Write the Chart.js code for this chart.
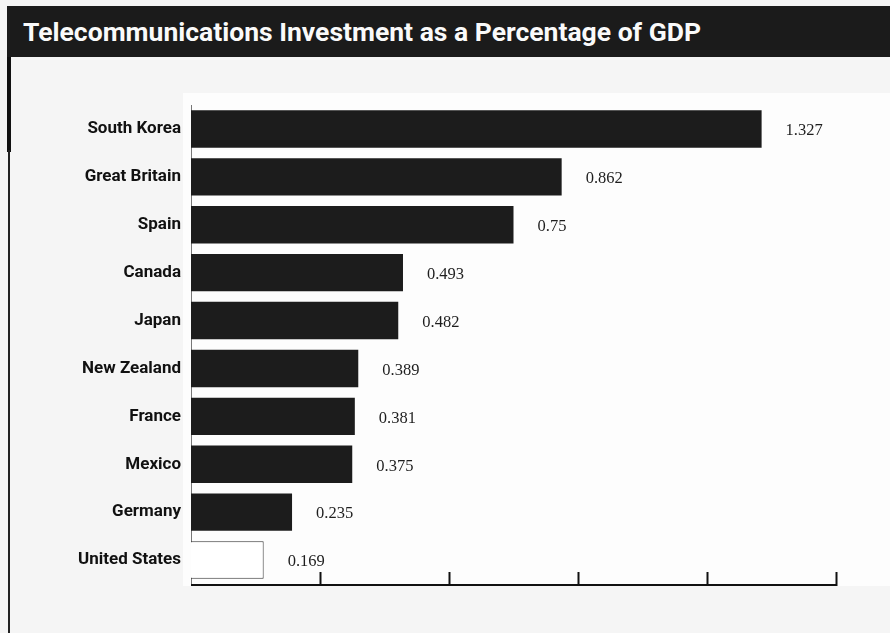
<!DOCTYPE html>
<html>
<head>
<meta charset="utf-8">
<script src="https://cdn.jsdelivr.net/npm/chart.js@4.4.1/dist/chart.umd.min.js"></script>
<style>
  html, body { margin: 0; padding: 0; }
  body { width: 890px; height: 633px; background: #f5f5f5; position: relative; overflow: hidden; }
  .titleBar {
    position: absolute; left: 7px; top: 6px; width: 883px; height: 51px;
    background: #1b1b1b;
  }
  .titleBar span {
    position: absolute; left: 16px; top: 10px;
    color: #fafafa; font-family: Roboto, "Liberation Sans", sans-serif;
    font-weight: bold; font-size: 26.5px; white-space: nowrap;
  }
  .edgeTop { position: absolute; left: 7px; top: 57px; width: 4px; height: 95px; background: #111; }
  .edge { position: absolute; left: 8px; top: 150px; width: 2px; height: 483px; background: #222; }
  #chartBox { position: absolute; left: 0; top: 0; width: 890px; height: 633px; }
</style>
</head>
<body>
<div class="titleBar"><span>Telecommunications Investment as a Percentage of GDP</span></div>
<div class="edgeTop"></div>
<div class="edge"></div>
<div id="chartBox"><canvas id="myChart"></canvas></div>
<script>
const countries = ['South Korea', 'Great Britain', 'Spain', 'Canada', 'Japan',
  'New Zealand', 'France', 'Mexico', 'Germany', 'United States'];
const investment = [1.327, 0.862, 0.75, 0.493, 0.482, 0.389, 0.381, 0.375, 0.235, 0.169];
const valueLabels = ['1.327', '0.862', '0.75', '0.493', '0.482', '0.389', '0.381', '0.375', '0.235', '0.169'];
const axisTicks = [0.3, 0.6, 0.9, 1.2, 1.5];

// white panel behind the plot, like the scan
const panelPlugin = {
  id: 'panel',
  beforeDraw(chart) {
    const { ctx, chartArea } = chart;
    ctx.save();
    ctx.fillStyle = '#fdfdfd';
    ctx.fillRect(chartArea.left - 8, chartArea.top - 12, chart.width - chartArea.left + 8, chartArea.bottom - chartArea.top + 14);
    ctx.restore();
  },
};

// axis line with upward ticks + value labels next to bars
const axisPlugin = {
  id: 'axisTicks',
  afterDatasetsDraw(chart) {
    const { ctx, chartArea } = chart;
    const xScale = chart.scales.x;
    const y0 = chartArea.bottom + 1;
    ctx.save();
    ctx.strokeStyle = '#111';
    ctx.lineWidth = 2;
    ctx.beginPath();
    ctx.moveTo(chartArea.left, y0);
    ctx.lineTo(xScale.getPixelForValue(1.5), y0);
    ctx.stroke();
    axisTicks.forEach((v) => {
      const x = Math.round(xScale.getPixelForValue(v)) + 0.5;
      ctx.beginPath();
      ctx.moveTo(x, y0 + 1);
      ctx.lineTo(x, y0 - 13);
      ctx.stroke();
    });

    const meta = chart.getDatasetMeta(0);
    ctx.fillStyle = '#1e1e1e';
    ctx.font = '16.5px "Liberation Serif", "DejaVu Serif", serif';
    ctx.textBaseline = 'middle';
    meta.data.forEach((bar, i) => {
      ctx.fillText(valueLabels[i], bar.x + 24, bar.y + 2);
    });
    ctx.restore();
  },
};

const myChartRef = document.getElementById('myChart').getContext('2d');
new Chart(myChartRef, {
  type: 'bar',
  data: {
    labels: countries,
    datasets: [{
      label: 'Investment (% of GDP)',
      data: investment,
      backgroundColor: countries.map((c) => (c === 'United States' ? '#ffffff' : '#1c1c1c')),
      borderColor: countries.map((c) => (c === 'United States' ? '#333' : '#1c1c1c')),
      borderWidth: countries.map((c) => (c === 'United States' ? 1 : 0)),
      barPercentage: 0.78,
      categoryPercentage: 1,
    }],
  },
  options: {
    indexAxis: 'y',
    animation: false,
    responsive: true,
    maintainAspectRatio: false,
    layout: { padding: { left: 0, top: 105, right: 54, bottom: 49 } },
    plugins: {
      legend: { display: false },
      tooltip: { enabled: false },
      title: { display: false },
    },
    scales: {
      x: {
        min: 0,
        max: 1.5,
        display: false,
      },
      y: {
        grid: { display: false, drawTicks: false },
        border: { display: true, color: '#777', width: 1 },
        ticks: {
          color: '#111',
          padding: 10,
          font: { family: 'Roboto, "Liberation Sans", sans-serif', weight: 'bold', size: 17 },
        },
        afterFit(scale) { scale.width = 191; },
      },
    },
  },
  plugins: [panelPlugin, axisPlugin],
});
</script>
</body>
</html>
